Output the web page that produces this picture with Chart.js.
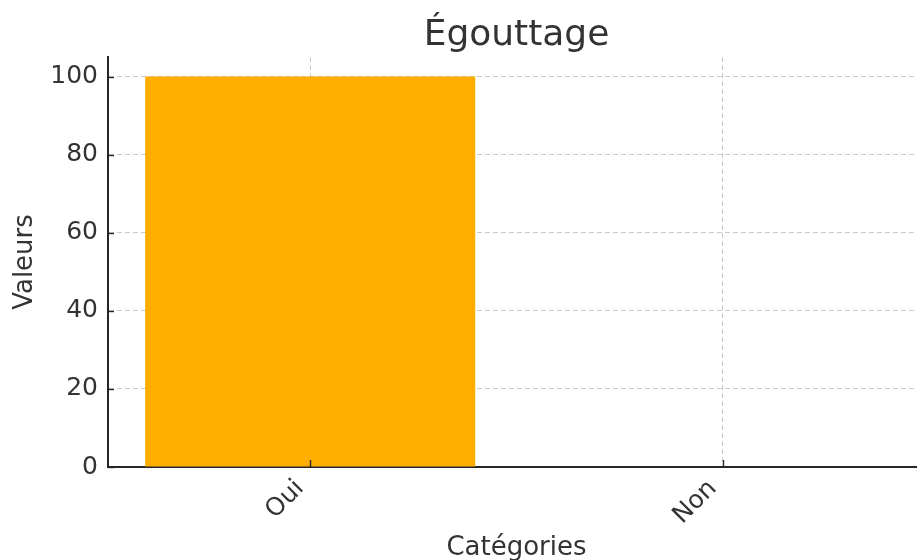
<!DOCTYPE html>
<html>
<head>
<meta charset="utf-8">
<script src="https://cdn.jsdelivr.net/npm/chart.js@4.4.0/dist/chart.umd.min.js"></script>
<style>
  html, body { margin: 0; padding: 0; background: #fff; overflow: hidden; }
  #wrap { width: 926px; height: 560px; }
</style>
</head>
<body>
<div id="wrap"><canvas id="c" width="926" height="560"></canvas></div>
<script>
// Chart data
const categories = ['Oui', 'Non'];
const values = [100, 0];
const yTicks = [0, 20, 40, 60, 80, 100];
const chartTitle = 'Égouttage';
const xTitle = 'Catégories';
const yTitle = 'Valeurs';

const FONT = "'DejaVu Sans', sans-serif";
const TEXT = '#333333';
const AXIS = '#262626';
const GRID = 'rgba(128,128,128,0.42)';

// Short tick marks pointing into the plot area
const innerTicks = {
  id: 'innerTicks',
  afterDraw(chart) {
    const { ctx, chartArea, scales: { x, y } } = chart;
    ctx.save();
    ctx.strokeStyle = AXIS;
    ctx.lineWidth = 1.4;
    x.ticks.forEach(t => {
      const px = Math.round(x.getPixelForValue(t.value)) + 0.5;
      ctx.beginPath();
      ctx.moveTo(px, chartArea.bottom);
      ctx.lineTo(px, chartArea.bottom - 7);
      ctx.stroke();
    });
    y.ticks.forEach(t => {
      const py = Math.round(y.getPixelForValue(t.value)) + 0.5;
      ctx.beginPath();
      ctx.moveTo(chartArea.left, py);
      ctx.lineTo(chartArea.left + 6, py);
      ctx.stroke();
    });
    ctx.restore();
  }
};

new Chart(document.getElementById('c'), {
  type: 'bar',
  data: {
    datasets: [{
      data: categories.map((c, i) => ({ x: i, y: values[i] })),
      backgroundColor: '#ffae00',
      borderWidth: 0,
      categoryPercentage: 0.8,
      barPercentage: 1.0
    }]
  },
  options: {
    responsive: false,
    animation: false,
    layout: { padding: { left: 0, right: 1, top: 0, bottom: 0 } },
    plugins: {
      legend: { display: false },
      tooltip: { enabled: false },
      title: {
        display: true,
        fullSize: false,
        text: chartTitle,
        color: TEXT,
        font: { family: FONT, size: 36, weight: 'normal', lineHeight: 1.0 },
        padding: { top: 18, bottom: 3 }
      }
    },
    scales: {
      x: {
        type: 'linear',
        min: -0.49,
        max: 1.49,
        offset: false,
        z: 1,
        afterBuildTicks: s => { s.ticks = categories.map((c, i) => ({ value: i })); },
        afterFit: s => { s.height = 93; },
        ticks: {
          color: TEXT,
          font: { family: FONT, size: 25 },
          minRotation: 45,
          maxRotation: 45,
          padding: 7,
          labelOffset: -10,
          callback: v => categories[v]
        },
        grid: { color: GRID, lineWidth: 1, drawTicks: false, offset: false },
        border: { display: true, color: AXIS, width: 2, dash: [5, 3] },
        title: {
          display: true,
          text: xTitle,
          color: TEXT,
          font: { family: FONT, size: 26, lineHeight: 0.8 },
          padding: { top: 4, bottom: 1 }
        }
      },
      y: {
        min: 0,
        max: 105,
        z: 1,
        afterBuildTicks: s => { s.ticks = yTicks.map(v => ({ value: v })); },
        afterFit: s => { s.width = 108; },
        ticks: {
          color: TEXT,
          font: { family: FONT, size: 25 },
          padding: 10
        },
        grid: { color: GRID, lineWidth: 1, drawTicks: false },
        border: { display: true, color: AXIS, width: 2, dash: [5, 3] },
        title: {
          display: true,
          text: yTitle,
          color: TEXT,
          font: { family: FONT, size: 26, lineHeight: 1.2 },
          padding: { top: 10, bottom: 4 }
        }
      }
    }
  },
  plugins: [innerTicks]
});
</script>
</body>
</html>
